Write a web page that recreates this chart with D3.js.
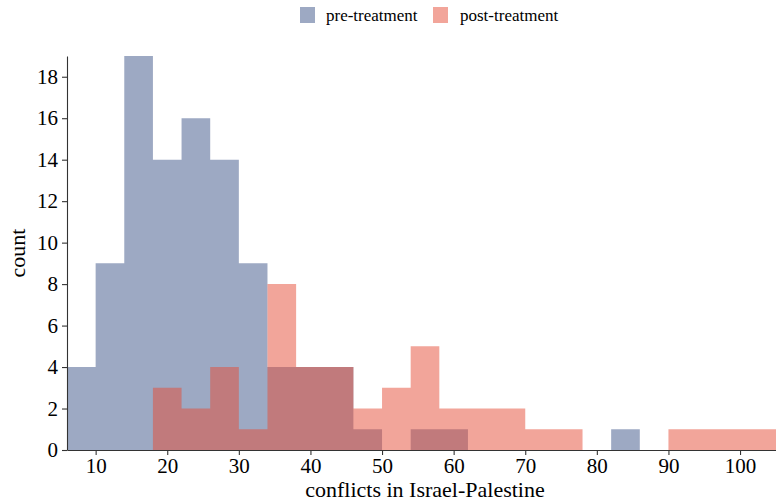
<!DOCTYPE html>
<html>
<head>
<meta charset="utf-8">
<script src="https://cdn.jsdelivr.net/npm/d3@7"></script>
<style>
  html, body { margin: 0; padding: 0; background: #fff; }
  svg { display: block; }
  text { font-family: "Liberation Serif", "DejaVu Serif", serif; fill: #000; }
</style>
</head>
<body>
<svg id="chart" width="776" height="503"></svg>
<script>
// ---- data ----
const binStarts = [6, 10, 14, 18, 22, 26, 30, 34, 38, 42, 46, 50, 54, 58, 62, 66, 70, 74, 78, 82, 86, 90, 94, 98, 102];
const binWidth = 4;
const preCounts  = [4, 9, 19, 14, 16, 14, 9, 4, 4, 4, 1, 0, 1, 1, 0, 0, 0, 0, 0, 1, 0, 0, 0, 0, 0];
const postCounts = [0, 0, 0, 3, 2, 4, 1, 8, 4, 4, 2, 3, 5, 2, 2, 2, 1, 1, 0, 0, 0, 1, 1, 1, 1];
const seriesNames = ["pre-treatment", "post-treatment"];
const seriesColors = ["#3C5488", "#E64B35"];
const xTicks = [10, 20, 30, 40, 50, 60, 70, 80, 90, 100];
const yTicks = [0, 2, 4, 6, 8, 10, 12, 14, 16, 18];
const xTitle = "conflicts in Israel-Palestine";
const yTitle = "count";

// ---- layout ----
const svg = d3.select("#chart");
const margin = { left: 67, top: 56, bottom: 450 };
const plotRight = 783;

const x = d3.scaleLinear().domain([6, 106]).range([margin.left, plotRight]);
const y = d3.scaleLinear().domain([0, 19]).range([margin.bottom, margin.top]);

const series = [preCounts, postCounts];

const area = d3.area()
  .x(d => x(d.x))
  .y0(y(0))
  .y1(d => y(d.n))
  .curve(d3.curveStepAfter);

const g = svg.append("g");
series.forEach((counts, si) => {
  const pts = binStarts.map((b, i) => ({ x: b, n: counts[i] }));
  pts.push({ x: binStarts[binStarts.length - 1] + binWidth, n: 0 });
  g.append("path")
    .datum(pts)
    .attr("d", area)
    .attr("fill", seriesColors[si])
    .attr("fill-opacity", 0.5);
});

// ---- axes ----
const axisColor = "#333";
const xAxis = svg.append("g")
  .attr("transform", `translate(0,${margin.bottom})`)
  .call(d3.axisBottom(x).tickValues(xTicks).tickSize(5).tickPadding(3).tickSizeOuter(0));
const yAxis = svg.append("g")
  .attr("transform", `translate(${margin.left},0)`)
  .call(d3.axisLeft(y).tickValues(yTicks).tickSize(5).tickPadding(4).tickSizeOuter(0));

[xAxis, yAxis].forEach(a => {
  a.select(".domain").attr("stroke", axisColor).attr("stroke-width", 1.1);
  a.selectAll(".tick line").attr("stroke", axisColor).attr("stroke-width", 1.1);
  a.selectAll(".tick text")
    .attr("fill", "#000")
    .style("font-family", '"Liberation Serif", serif')
    .style("font-size", "21px");
});

// axis titles
svg.append("text")
  .attr("x", (margin.left + plotRight) / 2)
  .attr("y", 497)
  .attr("text-anchor", "middle")
  .style("font-size", "22px")
  .text(xTitle);

svg.append("text")
  .attr("transform", `translate(25,${(margin.top + margin.bottom) / 2}) rotate(-90)`)
  .attr("text-anchor", "middle")
  .style("font-size", "22px")
  .text(yTitle);

// ---- legend ----
const legendItems = [
  { name: seriesNames[0], color: seriesColors[0], sx: 300, tx: 326 },
  { name: seriesNames[1], color: seriesColors[1], sx: 433, tx: 460 }
];
const leg = svg.append("g");
legendItems.forEach(d => {
  leg.append("rect")
    .attr("x", d.sx).attr("y", 7)
    .attr("width", 15).attr("height", 16)
    .attr("fill", d.color).attr("fill-opacity", 0.5);
  leg.append("text")
    .attr("x", d.tx).attr("y", 21)
    .style("font-size", "17px")
    .text(d.name);
});
</script>
</body>
</html>
